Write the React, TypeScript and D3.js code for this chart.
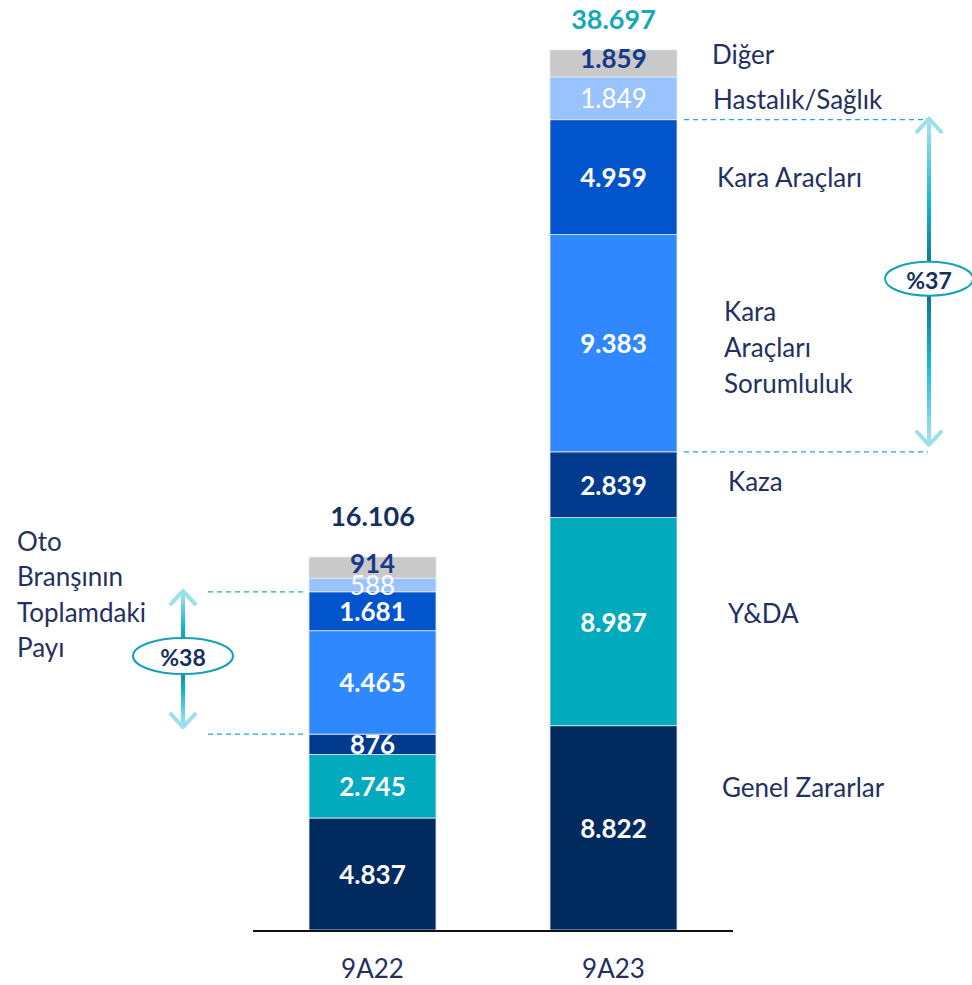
import React, { useEffect, useRef } from "react";
import * as d3 from "d3";

// chart values (TL mn)
const categories = ["9A22", "9A23"];
const seriesNames = [
  "Genel Zararlar",
  "Y&DA",
  "Kaza",
  "Kara Araçları Sorumluluk",
  "Kara Araçları",
  "Hastalık/Sağlık",
  "Diğer",
];
const values9A22 = [4837, 2745, 876, 4465, 1681, 588, 914];
const values9A23 = [8822, 8987, 2839, 9383, 4959, 1849, 1859];
const totals = [16106, 38697];
const otoShare = ["%38", "%37"];
const sideNote = ["Oto", "Branşının", "Toplamdaki", "Payı"];

const colors = ["#012A5E", "#02AABD", "#023B8D", "#3088FF", "#0254CC", "#99C3FF", "#C9C9C9"];
const legendLines = [["Genel Zararlar"], ["Y&DA"], ["Kaza"], ["Kara", "Araçları", "Sorumluluk"], ["Kara Araçları"], ["Hastalık/Sağlık"], ["Diğer"]];
// nudges of the legend text against the 9A23 segment centres
const legendDx = [45, 51, 51, 47, 40, 36, 35];
const legendDy = [-41, -9, -4, 4, 0, 1, -9];

const FONT = "Lato, 'Open Sans', sans-serif";
const NAVY_TEXT = "#25305E";

export default function App() {
  const ref = useRef<SVGSVGElement>(null);

  useEffect(() => {
    const svg = d3.select(ref.current);
    svg.selectAll("*").remove();

    const tr = d3.formatLocale({ decimal: ",", thousands: ".", grouping: [3], currency: ["", "TL"] });
    const fmt = tr.format(",d");

    const x = d3.scaleBand<string>()
      .domain(categories)
      .range([252, 734])
      .paddingInner(0.473)
      .paddingOuter(0.2365);

    // axis max fixed at 38.000 on the slide, so the top of 9A23 is cut off
    const y = d3.scaleLinear().domain([0, 38000]).range([930, 50]).clamp(true);

    const table = categories.map((c, i) => {
      const row: any = { cat: c };
      const vals = i === 0 ? values9A22 : values9A23;
      seriesNames.forEach((s, j) => (row[s] = vals[j]));
      return row;
    });
    const stacked = d3.stack().keys(seriesNames)(table);

    const defs = svg.append("defs");
    const grad = defs.append("linearGradient")
      .attr("id", "arrowGrad")
      .attr("gradientUnits", "objectBoundingBox")
      .attr("x1", 0).attr("y1", 0).attr("x2", 0).attr("y2", 1);
    [["0", "#A8E4F0"], ["0.25", "#16B9D2"], ["0.5", "#0D6877"], ["0.75", "#16B9D2"], ["1", "#A8E4F0"]]
      .forEach(([o, c]) => grad.append("stop").attr("offset", o).attr("stop-color", c));

    // bars
    const layers = svg.append("g").selectAll("g")
      .data(stacked)
      .join("g")
      .attr("fill", (d, i) => colors[i]);

    layers.selectAll("rect")
      .data((d) => d.map((p) => ({ p, cat: p.data.cat as string })))
      .join("rect")
      .attr("x", (d) => x(d.cat)!)
      .attr("width", x.bandwidth())
      .attr("y", (d) => y(d.p[1]))
      .attr("height", (d) => y(d.p[0]) - y(d.p[1]))
      .attr("stroke", "#E4E8EE")
      .attr("stroke-width", 0.8);

    // segment values
    stacked.forEach((layer, i) => {
      const name = seriesNames[i];
      svg.append("g").selectAll("text")
        .data(layer)
        .join("text")
        .attr("x", (d) => x(d.data.cat as any)! + x.bandwidth() / 2)
        .attr("y", (d) => (y(d[0]) + y(d[1])) / 2 + (name === "Diğer" ? -5 : 0))
        .attr("text-anchor", "middle")
        .attr("dominant-baseline", "central")
        .attr("font-family", FONT)
        .attr("font-size", 26)
        .attr("font-weight", name === "Hastalık/Sağlık" ? 400 : 700)
        .attr("fill", name === "Diğer" ? "#17398A" : "#ffffff")
        .text((d) => fmt(d[1] - d[0]));
    });

    // totals
    svg.append("g").selectAll("text")
      .data(totals)
      .join("text")
      .attr("x", (d, i) => x(categories[i])! + x.bandwidth() / 2)
      .attr("y", (d) => Math.max(y(d) - 42, 18))
      .attr("text-anchor", "middle")
      .attr("dominant-baseline", "central")
      .attr("font-family", FONT)
      .attr("font-size", 27)
      .attr("font-weight", 700)
      .attr("fill", (d, i) => (i === 0 ? "#13305F" : "#17A8B6"))
      .text((d) => fmt(d));

    // baseline + categories
    svg.append("line")
      .attr("x1", 253).attr("x2", 733)
      .attr("y1", y(0) + 1).attr("y2", y(0) + 1)
      .attr("stroke", "#111").attr("stroke-width", 2);

    svg.append("g").selectAll("text")
      .data(categories)
      .join("text")
      .attr("x", (d) => x(d)! + x.bandwidth() / 2)
      .attr("y", 968)
      .attr("text-anchor", "middle")
      .attr("dominant-baseline", "central")
      .attr("font-family", FONT)
      .attr("font-size", 26)
      .attr("fill", NAVY_TEXT)
      .text((d) => d);

    // legend on the right of 9A23
    const last = stacked.map((l) => l[1]);
    const right = x(categories[1])! + x.bandwidth();
    seriesNames.forEach((s, i) => {
      const mid = (y(last[i][0]) + y(last[i][1])) / 2 + legendDy[i];
      const lines = legendLines[i];
      const lh = 36;
      const t = svg.append("text")
        .attr("font-family", FONT)
        .attr("font-size", 26)
        .attr("fill", NAVY_TEXT)
        .attr("dominant-baseline", "central");
      lines.forEach((ln, k) => {
        t.append("tspan")
          .attr("x", right + legendDx[i])
          .attr("y", mid + (k - (lines.length - 1) / 2) * lh)
          .text(ln);
      });
    });

    // side note
    svg.append("g").selectAll("text")
      .data(sideNote)
      .join("text")
      .attr("x", 17)
      .attr("y", (d, i) => 541 + i * 35.3)
      .attr("dominant-baseline", "central")
      .attr("font-family", FONT)
      .attr("font-size", 26)
      .attr("fill", NAVY_TEXT)
      .text((d) => d);

    // oto share brackets (Kaza top .. Kara Araçları top)
    const drawShare = (ci: number, lineX0: number, lineX1: number, ax: number, rx: number, ry: number) => {
      const col = stacked.map((l) => l[ci]);
      const yTop = y(col[4][1]);
      const yBot = y(col[3][0]);
      svg.append("g").selectAll("line")
        .data([yTop, yBot])
        .join("line")
        .attr("x1", lineX0).attr("x2", lineX1)
        .attr("y1", (d) => d).attr("y2", (d) => d)
        .attr("stroke", "#1FAABF")
        .attr("stroke-width", 1.3)
        .attr("stroke-dasharray", "5,4");

      const t0 = yTop - 2;
      const t1 = yBot - 6;
      svg.append("rect")
        .attr("x", ax - 2).attr("width", 4)
        .attr("y", t0 + 2).attr("height", t1 - t0 - 4)
        .attr("fill", "url(#arrowGrad)");
      const head = d3.line();
      svg.append("path")
        .attr("d", head([[ax - 12, t0 + 14], [ax, t0 + 1], [ax + 12, t0 + 14]]))
        .attr("fill", "none").attr("stroke", "#9EDFEC")
        .attr("stroke-width", 4).attr("stroke-linecap", "round").attr("stroke-linejoin", "round");
      svg.append("path")
        .attr("d", head([[ax - 12, t1 - 14], [ax, t1 - 1], [ax + 12, t1 - 14]]))
        .attr("fill", "none").attr("stroke", "#9EDFEC")
        .attr("stroke-width", 4).attr("stroke-linecap", "round").attr("stroke-linejoin", "round");

      const cy = (t0 + t1) / 2 - 3;
      svg.append("ellipse")
        .attr("cx", ax).attr("cy", cy).attr("rx", rx).attr("ry", ry)
        .attr("fill", "#fff").attr("stroke", "#14A3B6").attr("stroke-width", 2);
      svg.append("text")
        .attr("x", ax).attr("y", cy + 1)
        .attr("text-anchor", "middle")
        .attr("dominant-baseline", "central")
        .attr("font-family", FONT)
        .attr("font-size", 23)
        .attr("font-weight", 700)
        .attr("fill", "#13305F")
        .text(otoShare[ci]);
    };
    drawShare(0, 208, 306, 183, 50, 18);
    drawShare(1, 684, 928, 929, 44, 17);
  }, []);

  return (
    <svg
      ref={ref}
      width={972}
      height={985}
      style={{ position: "absolute", left: 0, top: 0, display: "block", background: "#fff" }}
    />
  );
}
